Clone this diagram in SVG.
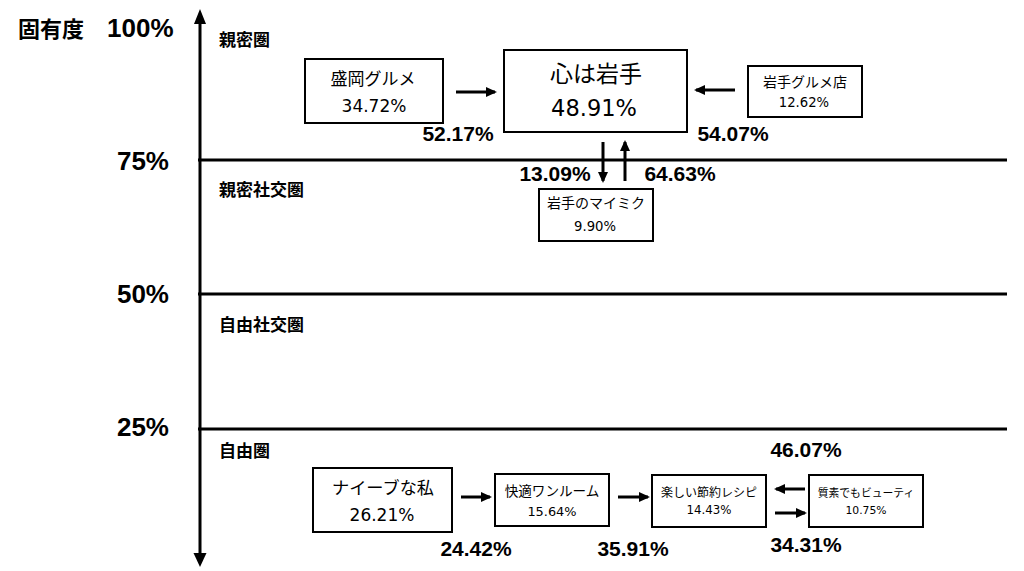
<svg xmlns="http://www.w3.org/2000/svg" width="1024" height="571" viewBox="0 0 1024 571">
<defs>
<marker id="ah" markerWidth="12" markerHeight="12" refX="9" refY="5" orient="auto" markerUnits="userSpaceOnUse"><path d="M0,0 L11,5 L0,10 Z" fill="#000"/></marker>
<style>
.jp{font-family:"Noto Sans CJK JP","Noto Sans",sans-serif;fill:#000}
.num{font-family:"DejaVu Sans","Noto Sans",sans-serif;fill:#000}
.pct{font-family:"Liberation Sans",Arial,sans-serif;font-weight:bold;fill:#000}
.box{fill:#fff;stroke:#000;stroke-width:2}
.ln{stroke:#000;stroke-width:3;fill:none}
.ar{stroke:#000;stroke-width:3;fill:none;marker-end:url(#ah)}
</style>
</defs>
<rect width="1024" height="571" fill="#fff"/>
<g id="axis">
<line class="ln" x1="200" y1="20" x2="200" y2="557"/>
<path d="M200,9 L206,24 L194,24 Z" fill="#000"/>
<path d="M200,567 L206.5,553 L193.5,553 Z" fill="#000"/>
<line class="ln" x1="198" y1="160" x2="1007" y2="160"/>
<line class="ln" x1="198" y1="294" x2="1007" y2="294"/>
<line class="ln" x1="198" y1="429" x2="1007" y2="429"/>
<text class="jp" x="18" y="37" font-size="22" font-weight="bold">固有度</text>
<text class="pct" x="107" y="37" font-size="26">100%</text>
<text class="pct" x="169" y="170" font-size="26" text-anchor="end">75%</text>
<text class="pct" x="169" y="303" font-size="26" text-anchor="end">50%</text>
<text class="pct" x="169" y="436" font-size="26" text-anchor="end">25%</text>
<text class="jp" x="219" y="46" font-size="17" font-weight="bold">親密圏</text>
<text class="jp" x="219" y="196" font-size="17" font-weight="bold">親密社交圏</text>
<text class="jp" x="219" y="331" font-size="17" font-weight="bold">自由社交圏</text>
<text class="jp" x="219" y="457" font-size="17" font-weight="bold">自由圏</text>
</g>
<g id="connectors">
<line class="ar" x1="456" y1="92" x2="495" y2="92"/>
<line class="ar" x1="735" y1="90" x2="696" y2="90"/>
<line class="ar" x1="603" y1="142" x2="603" y2="181"/>
<line class="ar" x1="625" y1="181" x2="625" y2="142"/>
<line class="ar" x1="461" y1="497" x2="490" y2="497"/>
<line class="ar" x1="618" y1="497" x2="648" y2="497"/>
<line class="ar" x1="805" y1="489" x2="776" y2="489"/>
<line class="ar" x1="775" y1="513" x2="805" y2="513"/>
<text class="pct" x="458" y="141" font-size="21" text-anchor="middle">52.17%</text>
<text class="pct" x="733" y="141" font-size="21" text-anchor="middle">54.07%</text>
<text class="pct" x="555" y="181" font-size="21" text-anchor="middle">13.09%</text>
<text class="pct" x="680" y="181" font-size="21" text-anchor="middle">64.63%</text>
<text class="pct" x="476" y="556" font-size="21" text-anchor="middle">24.42%</text>
<text class="pct" x="633" y="556" font-size="21" text-anchor="middle">35.91%</text>
<text class="pct" x="806" y="457" font-size="21" text-anchor="middle">46.07%</text>
<text class="pct" x="806" y="552" font-size="21" text-anchor="middle">34.31%</text>
</g>
<g id="morioka">
<rect class="box" x="305" y="59" width="138" height="64"/>
<text class="jp" x="373" y="85" font-size="17" text-anchor="middle">盛岡グルメ</text>
<text class="num" x="374" y="112" font-size="17" text-anchor="middle">34.72%</text>
</g>
<g id="kokoro">
<rect class="box" x="504" y="50" width="183" height="82"/>
<text class="jp" x="596" y="82" font-size="23" text-anchor="middle">心は岩手</text>
<text class="num" x="594" y="116" font-size="22.5" text-anchor="middle">48.91%</text>
</g>
<g id="iwate-gourmet">
<rect class="box" x="748" y="66" width="114" height="51"/>
<text class="jp" x="805" y="87" font-size="14" text-anchor="middle">岩手グルメ店</text>
<text class="num" x="804" y="107" font-size="13.2" text-anchor="middle">12.62%</text>
</g>
<g id="mymiku">
<rect class="box" x="539" y="189" width="114" height="52"/>
<text class="jp" x="596" y="208" font-size="14" text-anchor="middle">岩手のマイミク</text>
<text class="num" x="595" y="231" font-size="13.2" text-anchor="middle">9.90%</text>
</g>
<g id="naive">
<rect class="box" x="313" y="468" width="139" height="64"/>
<text class="jp" x="383" y="494" font-size="17.2" text-anchor="middle">ナイーブな私</text>
<text class="num" x="382" y="521" font-size="17" text-anchor="middle">26.21%</text>
</g>
<g id="oneroom">
<rect class="box" x="495" y="474" width="114" height="52"/>
<text class="jp" x="552" y="496" font-size="13.6" text-anchor="middle">快適ワンルーム</text>
<text class="num" x="552" y="516" font-size="12.9" text-anchor="middle">15.64%</text>
</g>
<g id="recipe">
<rect class="box" x="652" y="475" width="114" height="52"/>
<text class="jp" x="709" y="497" font-size="12" text-anchor="middle">楽しい節約レシピ</text>
<text class="num" x="709" y="514" font-size="11.8" text-anchor="middle">14.43%</text>
</g>
<g id="beauty">
<rect class="box" x="809" y="475" width="114" height="52"/>
<text class="jp" x="866" y="497" font-size="10.8" text-anchor="middle">質素でもビューティ</text>
<text class="num" x="866" y="514" font-size="10.8" text-anchor="middle">10.75%</text>
</g>
</svg>
